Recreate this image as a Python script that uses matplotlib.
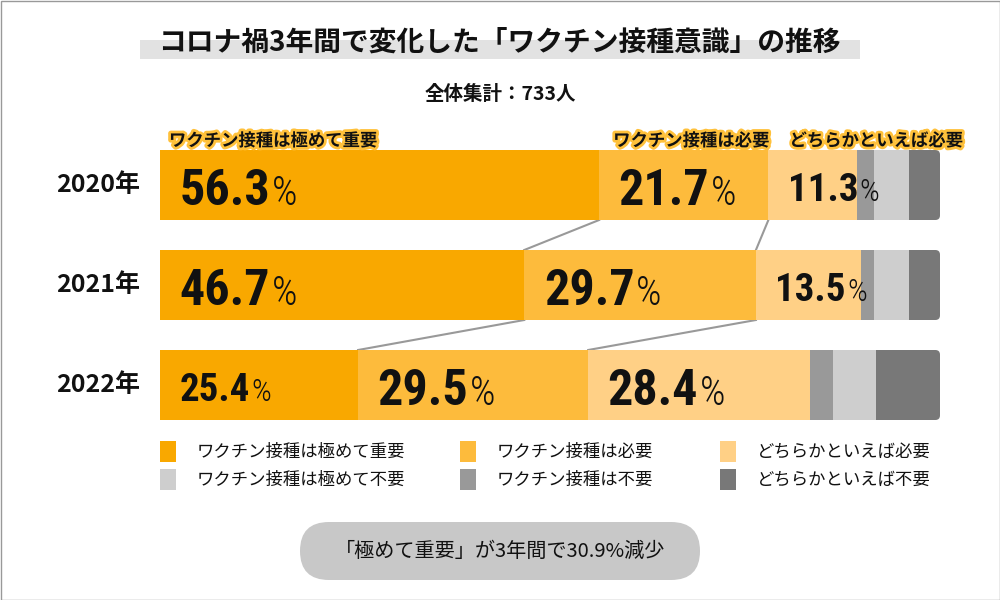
import matplotlib
matplotlib.use("Agg")
import matplotlib.pyplot as plt
import matplotlib.patheffects as pe
from matplotlib import font_manager
from matplotlib.patches import Rectangle, FancyBboxPatch

plt.rcParams['font.family'] = ['Noto Sans CJK JP', 'DejaVu Sans']

# --- data ---
years = ['2020年', '2021年', '2022年']
series = ['ワクチン接種は極めて重要', 'ワクチン接種は必要', 'どちらかといえば必要',
          'ワクチン接種は極めて不要', 'ワクチン接種は不要', 'どちらかといえば不要']
very_important = [56.3, 46.7, 25.4]
important = [21.7, 29.7, 29.5]
rather_important = [11.3, 13.5, 28.4]
very_unneeded = [4.5, 4.5, 5.5]
unneeded = [2.2, 1.6, 3.0]
rather_unneeded = [4.0, 4.0, 8.2]
title = 'コロナ禍3年間で変化した「ワクチン接種意識」の推移'
subtitle = '全体集計：733人'
note = '「極めて重要」が3年間で30.9%減少'

colors = ['#f9a800', '#fdbb3c', '#ffd086', '#cecece', '#999999', '#787878']
values = [very_important, important, rather_important,
          very_unneeded, unneeded, rather_unneeded]
stack_order = [0, 1, 2, 4, 3, 5]
# big / small label per row for the three labelled segments
label_big = [[True, True, False], [True, True, False], [False, True, True]]
top_label_offset = [1.15, 1.8, 2.7]


def pick_narrow_font():
    """find a condensed family for the big numbers, else plain DejaVu"""
    fonts = font_manager.fontManager.ttflist
    names = {f.name for f in fonts}
    for cand in ['Noto Sans ExtraCondensed', 'Noto Sans Condensed', 'Liberation Sans Narrow',
                 'Roboto Condensed', 'Open Sans Condensed', 'DejaVu Sans Condensed']:
        if cand in names:
            return cand, 'normal', 1.0
    for f in fonts:
        if f.name == 'DejaVu Sans' and f.stretch in ('condensed', 'semi-condensed'):
            return 'DejaVu Sans', 'condensed', 0.88
    for f in fonts:
        if ('Condensed' in f.name or 'Narrow' in f.name) and 'CJK' not in f.name:
            return f.name, 'normal', 1.0
    return 'DejaVu Sans', 'normal', 0.7


num_family, num_stretch, num_scale = pick_narrow_font()

fig = plt.figure(figsize=(10, 6), dpi=100)
fig.patch.set_facecolor('white')

# background / decoration layer in pixel coordinates
bg = fig.add_axes([0, 0, 1, 1], zorder=-1)
bg.set_xlim(0, 1000)
bg.set_ylim(600, 0)
bg.axis('off')
bg.add_patch(Rectangle((0.5, 0.5), 999, 599, fill=False, ec='#999999', lw=1))
bg.add_patch(Rectangle((140, 40), 720, 19, color='#e2e2e2', lw=0))
bg.text(499, 43, title, ha='center', va='center', fontsize=20, fontweight='bold', color='#111111')
bg.text(500, 95, subtitle, ha='center', va='center', fontsize=14, fontweight='bold', color='#111111')

leg_x = [160, 460, 720]
leg_y = [441, 469]
for n, name in enumerate(series):
    sx = leg_x[n % 3]
    sy = leg_y[n // 3]
    bg.add_patch(Rectangle((sx, sy), 16, 21, color=colors[n], lw=0))
    bg.text(sx + 37, sy + 10.5, name, va='center', ha='left', fontsize=12.5, color='#111111')

bg.add_patch(FancyBboxPatch((300, 522), 400, 58, boxstyle='round,pad=0,rounding_size=29',
                            fc='#c8c8c8', ec='none'))
bg.text(500, 551, note, ha='center', va='center', fontsize=14.5, color='#111111')

# bar layer
ax = fig.add_axes([0.16, 0.275, 0.78, 0.5])
ax.set_xlim(0, 100)
ax.set_ylim(2.5, -0.5)
ax.axis('off')

rows = range(len(years))
clips = []
for i in rows:
    clip = FancyBboxPatch((-5, i - 0.35), 105, 0.7, boxstyle='round,pad=0,rounding_size=0.6',
                          mutation_aspect=0.078, transform=ax.transData)
    clips.append(clip)

lefts = [0.0] * len(years)
for k in stack_order:
    bars = ax.barh(list(rows), values[k], left=lefts, height=0.7, color=colors[k], lw=0, zorder=2)
    for j, b in enumerate(bars):
        b.set_clip_path(clips[j])
    lefts = [l + v for l, v in zip(lefts, values[k])]

# connector lines between rows
cum1 = very_important
cum2 = [a + b for a, b in zip(very_important, important)]
for cum in (cum1, cum2):
    for i in range(len(years) - 1):
        ax.plot([cum[i], cum[i + 1]], [i + 0.35, i + 0.65], color='#999999', lw=1.5, zorder=1)

# year labels
for i, y in enumerate(years):
    ax.text(-2.5, i, y, ha='right', va='center', fontsize=18, fontweight='bold', color='#111111')

# percentage labels
for i in rows:
    start = 0.0
    for k in range(3):
        v = values[k][i]
        fs = (36 if label_big[i][k] else 28) * num_scale
        base = i + fs / 200 + 0.02
        num = ax.text(start + 2.5, base, f'{v}', ha='left', va='baseline', fontsize=fs,
                      fontweight='bold', family=num_family, fontstretch=num_stretch,
                      color='#111111', zorder=3)
        ax.annotate('%', xy=(1, base), xycoords=(num, 'data'), xytext=(1, 0),
                    textcoords='offset points', ha='left', va='baseline', fontsize=fs * 0.8,
                    fontweight='light', family=num_family, fontstretch=num_stretch,
                    color='#111111', zorder=3)
        start += v

# series labels above the first bar
start = 0.0
for k in range(3):
    ax.text(start + top_label_offset[k], -0.44, series[k], ha='left', va='center',
            fontsize=12.5, fontweight='bold', color='#111111', zorder=4,
            path_effects=[pe.withStroke(linewidth=4, foreground='#ffc13b')])
    start += values[k][0]

fig.savefig('out.png', dpi=100)
